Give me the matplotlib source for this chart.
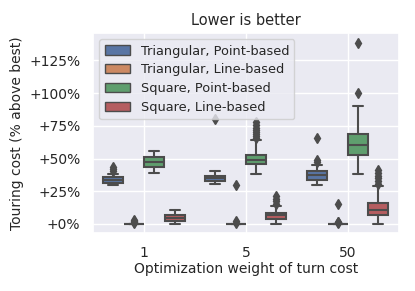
import colorsys
import matplotlib
matplotlib.use("Agg")
import matplotlib.pyplot as plt
from matplotlib.patches import Patch
from matplotlib.ticker import FuncFormatter
import seaborn as sns

sns.set_theme(style="darkgrid")
plt.rcParams['font.family'] = ['DejaVu Sans']

# categories / series
weights = ['1', '5', '50']
series = ['Triangular, Point-based', 'Triangular, Line-based',
          'Square, Point-based', 'Square, Line-based']

# box stats per series, one entry per weight: (whislo, q1, med, q3, whishi)
tri_point = [(29.8, 31.5, 33.5, 35.5, 38.2),
             (30.8, 33.1, 35.0, 36.9, 40.1),
             (29.5, 33.8, 37.3, 40.1, 45.2)]
tri_line = [(0, 0, 0, 0, 0),
            (0, 0, 0, 0, 0),
            (0, 0, 0, 0, 0)]
sq_point = [(38.9, 43.5, 47.3, 50.8, 56.1),
            (38.1, 46.0, 49.0, 52.8, 64.2),
            (38.4, 52.3, 60.4, 68.8, 90.3)]
sq_line = [(0, 2.1, 4.2, 6.5, 11.0),
           (0, 3.4, 6.7, 8.5, 13.5),
           (0, 6.5, 11.0, 16.1, 29.3)]

# outliers per series, one list per weight
tri_point_out = [[40.5, 42.0, 43.5], [80.0], [47.0, 48.5, 65.9]]
tri_line_out = [[0.8, 1.6, 2.4, 3.2], [1.0, 2.0, 30.0], [0.6, 1.2, 1.8, 15.6]]
sq_point_out = [[], [66.0, 67.5, 69.0, 70.5, 72.0, 73.5, 75.5, 78.0], [100.2, 138.4]]
sq_line_out = [[], [15.5, 17.3, 19.0, 21.1], [30.5, 33.0, 35.0, 36.5, 39.0, 41.4]]

all_stats = [tri_point, tri_line, sq_point, sq_line]
all_out = [tri_point_out, tri_line_out, sq_point_out, sq_line_out]

colors = sns.color_palette("deep", 4, desat=0.75)
lum = min(colorsys.rgb_to_hls(*c)[1] for c in colors) * 0.6
gray = (lum, lum, lum)

fig = plt.figure(figsize=(4.15, 2.91), dpi=100)
ax = fig.add_axes([0.224, 0.199, 0.737, 0.688])

n = len(series)
w = 0.8 / n
offsets = [(-0.4 + w / 2 + i * w) for i in range(n)]

for i in range(n):
    stats = []
    for j, (lo, q1, med, q3, hi) in enumerate(all_stats[i]):
        stats.append(dict(whislo=lo, q1=q1, med=med, q3=q3, whishi=hi,
                          fliers=all_out[i][j]))
    pos = [j + offsets[i] for j in range(len(weights))]
    ax.bxp(stats, positions=pos, widths=w * 0.98, patch_artist=True,
           manage_ticks=False,
           boxprops=dict(facecolor=colors[i], edgecolor=gray, linewidth=1.5),
           medianprops=dict(color=gray, linewidth=1.5),
           whiskerprops=dict(color=gray, linewidth=1.5),
           capprops=dict(color=gray, linewidth=1.5),
           flierprops=dict(marker='d', markerfacecolor=gray, markeredgecolor=gray,
                           markersize=5.5, linestyle='none'))

ax.set_xticks(range(len(weights)))
ax.set_xticklabels(weights)
ax.set_xlim(-0.5, len(weights) - 0.5)
ax.set_ylim(-7, 146)
ax.set_yticks([0, 25, 50, 75, 100, 125])
ax.yaxis.set_major_formatter(FuncFormatter(lambda v, p: f'+{v:.0f}%'))
ax.tick_params(labelsize=10, pad=3)

ax.set_title('Lower is better', fontsize=10.5, pad=6)
ax.set_xlabel('Optimization weight of turn cost', fontsize=10, labelpad=2)
ax.set_ylabel('Touring cost (% above best)', fontsize=10)

handles = [Patch(facecolor=colors[i], edgecolor=gray, linewidth=1.0, label=series[i])
           for i in range(n)]
ax.legend(handles=handles, loc='upper left', fontsize=9.3,
          handlelength=2.0, borderpad=0.4, labelspacing=0.45)

fig.savefig('out.png', dpi=100)
